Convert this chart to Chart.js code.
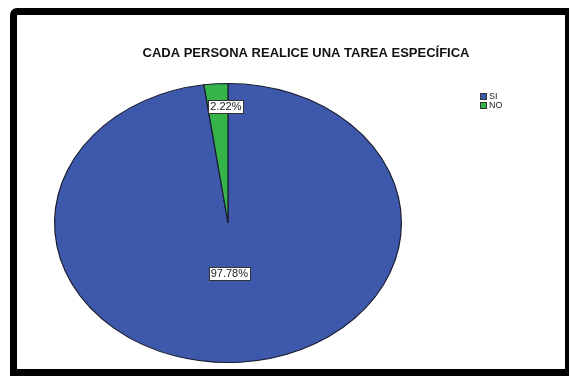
<!DOCTYPE html>
<html>
<head>
<meta charset="utf-8">
<script src="https://cdn.jsdelivr.net/npm/chart.js@4"></script>
<style>
    body { margin: 0; background: #fff; }
    #wrap { position: relative; width: 570px; height: 376px; }
    #myChart { position: absolute; left: 0; top: 0; }
    .frame {
        position: absolute; left: 10px; top: 8px; width: 548px; height: 354px;
        border-style: solid; border-color: #000;
        border-width: 7px 4px 7px 7px;
        border-top-left-radius: 7px;
        pointer-events: none;
    }
</style>
</head>
<body>
<div id="wrap">
    <canvas id="myChart" width="570" height="376"></canvas>
    <div class="frame"></div>
</div>
<script>
var title = 'CADA PERSONA REALICE UNA TAREA ESPECÍFICA';
var categories = ['SI', 'NO'];
var percents = [97.78, 2.22];
var sliceColors = ['#3E58AC', '#36B44A'];

// stretch the pie sideways so it comes out as an ellipse
var ellipsePlugin = {
    id: 'ellipse',
    beforeDatasetsDraw: function (chart, args, opts) {
        var ctx = chart.ctx;
        var arc = chart.getDatasetMeta(0).data[0];
        ctx.save();
        ctx.translate(arc.x, arc.y);
        ctx.scale(opts.sx, 1);
        ctx.translate(-arc.x, -arc.y);
    },
    afterDatasetsDraw: function (chart) {
        chart.ctx.restore();
    }
};

// percent boxes, title and the little legend
var textPlugin = {
    id: 'texts',
    afterDraw: function (chart, args, opts) {
        var ctx = chart.ctx;
        var sx = chart.options.plugins.ellipse.sx;
        ctx.save();

        ctx.font = '11px "Liberation Sans", Arial, sans-serif';
        ctx.textAlign = 'center';
        ctx.textBaseline = 'middle';
        chart.getDatasetMeta(0).data.forEach(function (arc, i) {
            var p = arc.getProps(['x', 'y', 'startAngle', 'endAngle', 'outerRadius'], true);
            var mid = (p.startAngle + p.endAngle) / 2;
            var r = p.outerRadius * opts.labelRadius[i];
            var px = p.x + Math.cos(mid) * r * sx + opts.shiftX[i];
            var py = p.y + Math.sin(mid) * r;
            var txt = percents[i].toFixed(2) + '%';
            var w = Math.round(ctx.measureText(txt).width + 4);
            var bx = Math.round(px - w / 2) + 0.5, by = Math.round(py - 6.5) + 0.5;
            ctx.fillStyle = '#fff';
            ctx.fillRect(bx, by, w, 13);
            ctx.strokeStyle = '#333';
            ctx.lineWidth = 1;
            ctx.strokeRect(bx, by, w, 13);
            ctx.fillStyle = '#222';
            ctx.fillText(txt, px, py + 0.5);
        });

        ctx.font = 'bold 13px "Liberation Sans", Arial, sans-serif';
        ctx.fillStyle = '#111';
        ctx.fillText(title, 306, 53);

        ctx.font = '9px "Liberation Sans", Arial, sans-serif';
        ctx.textAlign = 'left';
        categories.forEach(function (c, i) {
            var y = 93 + i * 9;
            ctx.fillStyle = sliceColors[i];
            ctx.fillRect(480, y, 6, 6);
            ctx.strokeStyle = '#333';
            ctx.strokeRect(480.5, y + 0.5, 6, 6);
            ctx.fillStyle = '#222';
            ctx.fillText(c, 489, y + 3.5);
        });
        ctx.restore();
    }
};

var ctx = document.getElementById('myChart').getContext('2d');
var myChart = new Chart(ctx, {
    type: 'pie',
    data: {
        labels: categories,
        datasets: [{
            data: percents,
            backgroundColor: sliceColors,
            borderColor: '#1a1f33',
            borderWidth: 1
        }]
    },
    options: {
        responsive: false,
        animation: false,
        layout: { padding: { left: 88, right: 202, top: 83, bottom: 13 } },
        plugins: {
            legend: { display: false },
            tooltip: { enabled: false },
            ellipse: { sx: 1.243 },
            texts: { labelRadius: [0.36, 0.84], shiftX: [-3, 8] }
        }
    },
    plugins: [ellipsePlugin, textPlugin]
});
</script>
</body>
</html>
